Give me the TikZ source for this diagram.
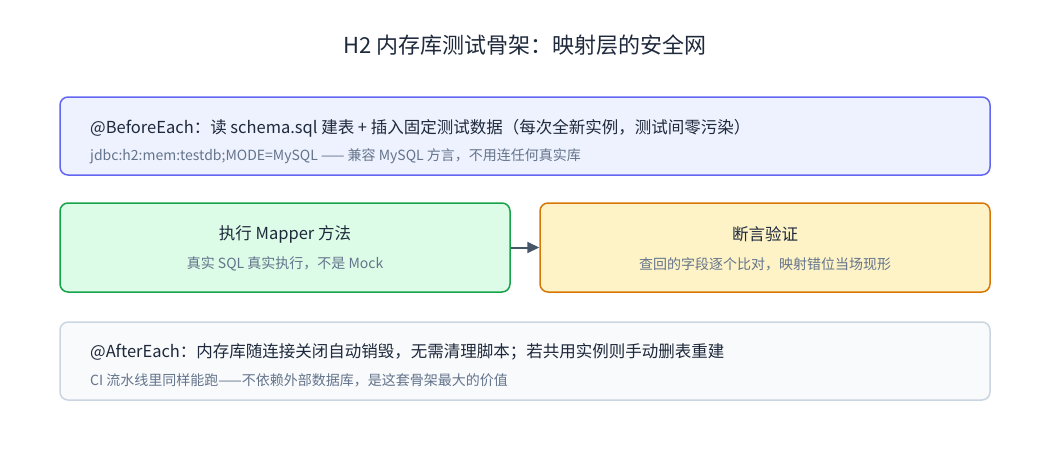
\documentclass[tikz,border=0pt]{standalone}
\usepackage{fontspec}
\setmainfont{Noto Sans CJK SC}
\usetikzlibrary{arrows.meta}
\definecolor{ink}{HTML}{1E293B}
\definecolor{sub}{HTML}{64748B}
\definecolor{arr}{HTML}{475569}
\definecolor{setupline}{HTML}{6366F1}
\definecolor{setupfill}{HTML}{EEF2FF}
\definecolor{runline}{HTML}{16A34A}
\definecolor{runfill}{HTML}{DCFCE7}
\definecolor{checkline}{HTML}{D97706}
\definecolor{checkfill}{HTML}{FEF3C7}
\definecolor{downline}{HTML}{CBD5E1}
\definecolor{downfill}{HTML}{F8FAFC}
\begin{document}
\begin{tikzpicture}[x=1pt, y=-1pt,
    box/.style={draw, rounded corners=8pt, line width=1.5pt},
    head/.style={font=\fontsize{16.5}{19}\selectfont, text=ink, inner sep=0pt},
    note/.style={font=\fontsize{14}{17}\selectfont, text=sub, inner sep=0pt}]
  \useasboundingbox (0,0) rectangle (1050,450);
  \node[font=\fontsize{22}{26}\selectfont, text=ink] (title) at (525,45) {H2 内存库测试骨架：映射层的安全网};
  % setup
  \draw[box, draw=setupline, fill=setupfill] (60,97) rectangle (990,175);
  \node[head, anchor=west] (setup) at (90,128) {@BeforeEach：读 schema.sql 建表 + 插入固定测试数据（每次全新实例，测试间零污染）};
  \node[note, anchor=west] (setupnote) at (90,156) {jdbc:h2:mem:testdb;MODE=MySQL —— 兼容 MySQL 方言，不用连任何真实库};
  % run and check
  \node[box, draw=runline, fill=runfill, minimum width=450pt, minimum height=89pt] (run) at (285,247.5) {};
  \node[head] (runhead) at (285,234) {执行 Mapper 方法};
  \node[note] (runnote) at (285,264) {真实 SQL 真实执行，不是 Mock};
  \node[box, draw=checkline, fill=checkfill, minimum width=450pt, minimum height=89pt] (check) at (765,247.5) {};
  \node[head] (checkhead) at (765,234) {断言验证};
  \node[note] (checknote) at (765,264) {查回的字段逐个比对，映射错位当场现形};
  \draw[-{Triangle[length=12pt,width=11pt]}, draw=arr, fill=arr, line width=2pt] (run.east) -- (check.west);
  % teardown
  \draw[box, draw=downline, fill=downfill] (60,322) rectangle (990,400);
  \node[head, anchor=west] (teardown) at (90,352) {@AfterEach：内存库随连接关闭自动销毁，无需清理脚本；若共用实例则手动删表重建};
  \node[note, anchor=west] (teardownnote) at (90,380) {CI 流水线里同样能跑——不依赖外部数据库，是这套骨架最大的价值};
\end{tikzpicture}
\end{document}
